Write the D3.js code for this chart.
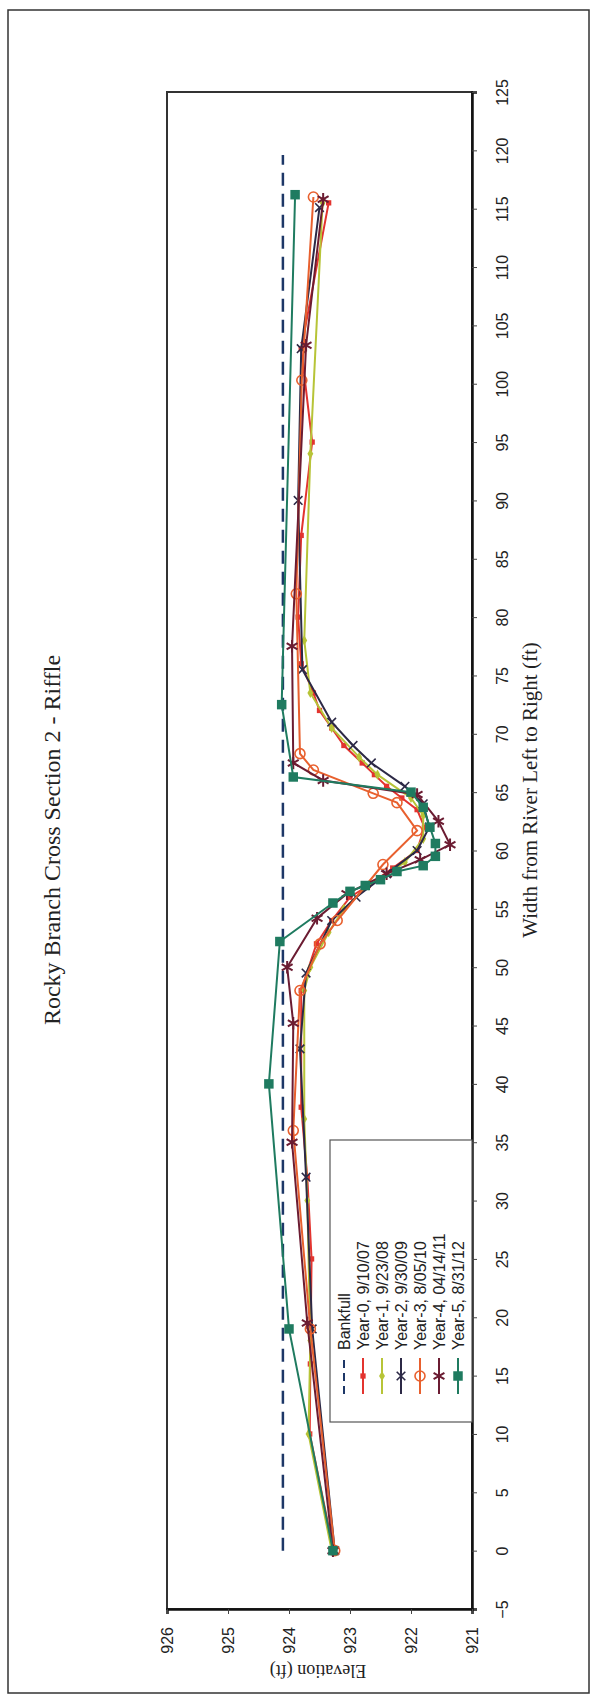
<!DOCTYPE html>
<html>
<head>
<meta charset="utf-8">
<script src="https://cdn.jsdelivr.net/npm/d3@7"></script>
<style>
  body { margin: 0; background: #fff; }
  .tick text { font-family: "Liberation Sans", Arial, sans-serif; font-size: 16px; fill: #222; }
  .title { font-family: "Liberation Serif", "Times New Roman", serif; fill: #222; }
</style>
</head>
<body>
<div id="chart"></div>
<script>
// Each series: [width from river left (ft), elevation (ft)]
var bankfull = [[0, 924.1], [119.6, 924.1]];

var year0 = [[0, 923.27], [10, 923.66], [16, 923.65], [25, 923.63], [32, 923.7], [38, 923.8], [48, 923.8],
  [52, 923.55], [54, 923.3], [56, 923.0], [57, 922.7], [58.5, 922.3], [60, 921.9], [62, 921.78],
  [63.5, 921.9], [64.5, 922.15], [65.5, 922.4], [66.5, 922.6], [67.5, 922.8], [69, 923.1],
  [70.5, 923.3], [72, 923.5], [73.5, 923.6], [76, 923.8], [80, 923.85], [87, 923.8], [95, 923.62],
  [103, 923.8], [115.5, 923.35]];

var year1 = [[0, 923.3], [10, 923.68], [18, 923.65], [30, 923.7], [37, 923.75], [48, 923.75],
  [50, 923.65], [53, 923.35], [55, 923.1], [57, 922.7], [59, 922.1], [61, 921.8], [63, 921.8],
  [64.5, 922.0], [66.5, 922.55], [68, 922.85], [70.5, 923.3], [73.5, 923.65], [78, 923.75],
  [94, 923.65], [115.5, 923.45]];

var year2 = [[0, 923.25], [19, 923.62], [32, 923.72], [43, 923.82], [49.5, 923.72], [54, 923.3],
  [56, 922.9], [58, 922.4], [60, 921.9], [62, 921.7], [64, 921.8], [65.5, 922.1], [67.5, 922.65],
  [69, 922.95], [71, 923.3], [75.5, 923.78], [90, 923.85], [103, 923.8], [115.1, 923.5]];

var year3 = [[0, 923.25], [19, 923.65], [36, 923.93], [48, 923.82], [52, 923.49], [54, 923.21],
  [58.8, 922.46], [61.7, 921.9], [64.1, 922.23], [64.9, 922.62], [66.9, 923.6], [68.3, 923.82],
  [82, 923.88], [100.3, 923.79], [116, 923.6]];

var year4 = [[0, 923.28], [19.5, 923.7], [35, 923.95], [45.2, 923.93], [50, 924.03], [54.2, 923.54],
  [56.3, 923.05], [58, 922.4], [59.2, 921.85], [60.5, 921.36], [62.5, 921.55], [64.8, 921.9], [66, 923.44],
  [67.5, 923.93], [77.5, 923.95], [103.3, 923.72], [115.8, 923.44]];

var year5 = [[0, 923.28], [19, 924.0], [40, 924.33], [52.2, 924.15], [55.5, 923.28], [56.5, 923.0],
  [57, 922.75], [57.5, 922.5], [58.2, 922.23], [58.7, 921.8], [59.5, 921.6], [60.6, 921.6],
  [62, 921.69], [63.7, 921.8], [65, 922.0], [66.3, 923.93], [72.5, 924.12], [116.2, 923.9]];

var seriesNames = ["Bankfull", "Year-0, 9/10/07", "Year-1, 9/23/08", "Year-2, 9/30/09",
  "Year-3, 8/05/10", "Year-4, 04/14/11", "Year-5, 8/31/12"];
var seriesColors = ["#1d3767", "#e3342f", "#b7c437", "#2c2946", "#e8602e", "#6b1c32", "#1f7b60"];
var seriesMarkers = ["none", "square", "diamond", "times", "circle", "asterisk", "bigsquare"];

var widthTicks = [-5, 0, 5, 10, 15, 20, 25, 30, 35, 40, 45, 50, 55, 60, 65, 70, 75, 80, 85, 90,
  95, 100, 105, 110, 115, 120, 125];
var elevTicks = [926, 925, 924, 923, 922, 921];

var svgWidth = 597;
var svgHeight = 1700;

// the chart is printed turned on its side: width runs up the page, elevation across it
var plot = {left: 167, right: 472, top: 92, bottom: 1609};

var svg = d3.select("#chart")
  .append("svg")
  .attr("width", svgWidth)
  .attr("height", svgHeight);

// outer frame
svg.append("rect")
  .attr("x", 8).attr("y", 10)
  .attr("width", 581).attr("height", 1683)
  .attr("fill", "none")
  .attr("stroke", "#333")
  .attr("stroke-width", 1.5);

var wScale = d3.scaleLinear().domain([-5, 125]).range([plot.bottom, plot.top]);
var eScale = d3.scaleLinear().domain([926, 921]).range([plot.left, plot.right]);

// plot box
svg.append("rect")
  .attr("x", plot.left).attr("y", plot.top)
  .attr("width", plot.right - plot.left)
  .attr("height", plot.bottom - plot.top)
  .attr("fill", "none")
  .attr("stroke", "#333")
  .attr("stroke-width", 2);

// width axis (right side)
var wAxis = svg.append("g")
  .attr("transform", `translate(${plot.right},0)`)
  .call(d3.axisRight(wScale).tickValues(widthTicks).tickSize(5).tickFormat(d3.format("d")));
wAxis.select(".domain").attr("stroke", "#111").attr("stroke-width", 2.5);
wAxis.selectAll(".tick line").attr("stroke", "#444");
wAxis.selectAll("text")
  .attr("x", 0).attr("dy", "0.36em")
  .attr("text-anchor", "middle")
  .attr("transform", "translate(30,0) rotate(-90)");

// elevation axis (bottom)
var eAxis = svg.append("g")
  .attr("transform", `translate(0,${plot.bottom})`)
  .call(d3.axisBottom(eScale).tickValues(elevTicks).tickSize(5).tickFormat(d3.format("d")));
eAxis.select(".domain").attr("stroke", "#111").attr("stroke-width", 2.5);
eAxis.selectAll(".tick line").attr("stroke", "#444");
eAxis.selectAll("text")
  .attr("y", 0).attr("dy", "0.36em")
  .attr("text-anchor", "end")
  .attr("transform", "translate(0,18) rotate(-90)");

// titles
svg.append("text")
  .attr("class", "title")
  .attr("transform", "translate(60,840) rotate(-90)")
  .attr("text-anchor", "middle")
  .style("font-size", "24px")
  .text("Rocky Branch Cross Section 2 - Riffle");

svg.append("text")
  .attr("class", "title")
  .attr("transform", "translate(537,790) rotate(-90)")
  .attr("text-anchor", "middle")
  .style("font-size", "21px")
  .text("Width from River Left to Right (ft)");

svg.append("text")
  .attr("class", "title")
  .attr("transform", "translate(318,1665) rotate(180)")
  .attr("text-anchor", "middle")
  .style("font-size", "18px")
  .text("Elevation (ft)");

// lines
var line = d3.line()
  .x(d => eScale(d[1]))
  .y(d => wScale(d[0]));

var allSeries = [bankfull, year0, year1, year2, year3, year4, year5];

function drawMarker(g, type, color) {
  if (type == "none") return;
  if (type == "circle") {
    g.append("circle").attr("r", 5).attr("fill", "none").attr("stroke", color).attr("stroke-width", 1.6);
  } else if (type == "times" || type == "asterisk") {
    var sym = type == "times" ? d3.symbolTimes : d3.symbolAsterisk;
    g.append("path").attr("d", d3.symbol().type(sym).size(type == "times" ? 50 : 110)())
      .attr("fill", "none").attr("stroke", color).attr("stroke-width", type == "times" ? 1.6 : 2);
  } else {
    var s = type == "bigsquare" ? 90 : (type == "diamond" ? 30 : 28);
    var sym2 = type == "diamond" ? d3.symbolDiamond : d3.symbolSquare;
    g.append("path").attr("d", d3.symbol().type(sym2).size(s)()).attr("fill", color);
  }
}

allSeries.forEach(function(data, i) {
  var path = svg.append("path")
    .datum(data)
    .attr("fill", "none")
    .attr("stroke", seriesColors[i])
    .attr("stroke-width", i == 0 ? 2.5 : 2)
    .attr("d", line);
  if (i == 0) path.attr("stroke-dasharray", "13,8");

  if (seriesMarkers[i] != "none") {
    svg.append("g").selectAll("g")
      .data(data)
      .enter()
      .append("g")
      .attr("transform", d => `translate(${eScale(d[1])},${wScale(d[0])})`)
      .each(function() { drawMarker(d3.select(this), seriesMarkers[i], seriesColors[i]); });
  }
});

// legend
var legend = svg.append("g");
legend.append("rect")
  .attr("x", 330).attr("y", 1140)
  .attr("width", 142).attr("height", 282)
  .attr("fill", "#fff")
  .attr("stroke", "#555")
  .attr("stroke-width", 1.2);

seriesNames.forEach(function(name, i) {
  var lx = 344 + i * 19;
  legend.append("line")
    .attr("x1", lx).attr("x2", lx)
    .attr("y1", 1394).attr("y2", 1358)
    .attr("stroke", seriesColors[i])
    .attr("stroke-width", 2)
    .attr("stroke-dasharray", i == 0 ? "8,5" : null);
  var mg = legend.append("g").attr("transform", `translate(${lx},1376)`);
  drawMarker(mg, seriesMarkers[i], seriesColors[i]);
  legend.append("text")
    .attr("transform", `translate(${lx},1350) rotate(-90)`)
    .attr("dy", "0.36em")
    .style("font-family", "'Liberation Sans', Arial, sans-serif")
    .style("font-size", "16px")
    .style("fill", "#222")
    .text(name);
});
</script>
</body>
</html>
